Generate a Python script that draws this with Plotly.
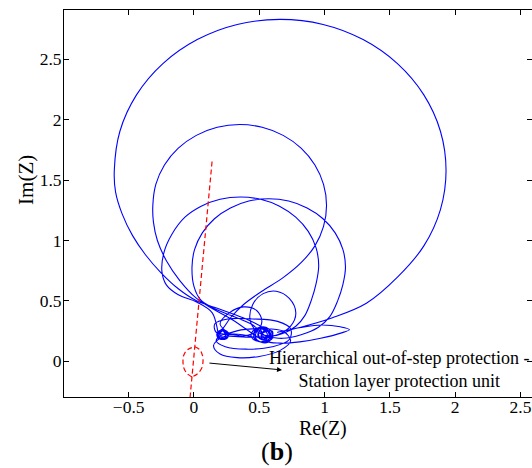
import plotly.graph_objects as go

# ---------------- data ----------------
x_ticks = [-0.5, 0, 0.5, 1, 1.5, 2, 2.5]
y_ticks = [0, 0.5, 1, 1.5, 2, 2.5]

# blue impedance trajectory, split into segments in drawing order
blob2_a_re = [0.53, 0.47, 0.46, 0.51, 0.58, 0.60, 0.55, 0.50, 0.49, 0.52, 0.57, 0.59, 0.56, 0.52, 0.52, 0.55, 0.58, 0.58, 0.54]
blob2_a_im = [0.28, 0.25, 0.19, 0.16, 0.17, 0.23, 0.28, 0.25, 0.21, 0.178, 0.18, 0.22, 0.26, 0.235, 0.205, 0.19, 0.205, 0.235, 0.27]

loop_a_re = [0.40, 0.20, 0.02, -0.12, -0.25, -0.37, -0.47, -0.55, -0.60, -0.61, -0.567, -0.44, -0.238, 0.025, 0.331, 0.66,
             0.989, 1.295, 1.558, 1.76, 1.887, 1.93, 1.887, 1.76, 1.558, 1.32, 1.06, 0.81, 0.64]
loop_a_im = [0.35, 0.43, 0.50, 0.60, 0.73, 0.88, 1.04, 1.22, 1.40, 1.58, 1.904, 2.205, 2.464, 2.663, 2.788, 2.83,
             2.788, 2.663, 2.464, 2.205, 1.904, 1.58, 1.256, 0.955, 0.696, 0.48, 0.36, 0.28, 0.24]

narrow_re = [0.82, 0.98, 1.12, 1.19, 1.13, 0.97, 0.81, 0.66, 0.55]
narrow_im = [0.28, 0.30, 0.285, 0.262, 0.235, 0.19, 0.16, 0.15, 0.17]

blob2_b_re = [0.50, 0.45, 0.44, 0.49, 0.55, 0.56, 0.52, 0.56, 0.52, 0.52, 0.56, 0.60, 0.60, 0.57, 0.53, 0.48, 0.46, 0.50]
blob2_b_im = [0.275, 0.25, 0.20, 0.165, 0.175, 0.23, 0.27, 0.25, 0.23, 0.19, 0.17, 0.19, 0.23, 0.27, 0.285, 0.27, 0.23, 0.19]

loop_b_re = [0.30, 0.15, 0.02, -0.11, -0.21, -0.28, -0.31, -0.315, -0.292, -0.226, -0.120, 0.018, 0.178, 0.35, 0.522, 0.683,
             0.820, 0.926, 0.992, 1.015, 0.992, 0.926, 0.820, 0.68, 0.52, 0.38, 0.28, 0.22]
loop_b_im = [0.34, 0.43, 0.52, 0.67, 0.83, 1.00, 1.15, 1.29, 1.464, 1.625, 1.764, 1.870, 1.937, 1.96, 1.937, 1.870,
             1.764, 1.625, 1.464, 1.29, 1.116, 0.955, 0.816, 0.69, 0.58, 0.47, 0.36, 0.27]

blob1_a_re = [0.18, 0.18, 0.22, 0.26, 0.26, 0.22, 0.19, 0.19, 0.22, 0.25, 0.25, 0.22, 0.20, 0.20, 0.22, 0.24, 0.24, 0.22, 0.18, 0.19]
blob1_a_im = [0.24, 0.20, 0.18, 0.20, 0.24, 0.26, 0.235, 0.205, 0.19, 0.205, 0.235, 0.25, 0.23, 0.21, 0.20, 0.21, 0.23, 0.255, 0.23, 0.19]

loop_c_re = [0.14, 0.02, -0.12, -0.21, -0.245, -0.23, -0.17, -0.069, 0.055, 0.20, 0.355, 0.51, 0.655, 0.779, 0.875, 0.935,
             0.955, 0.935, 0.90, 0.85, 0.78, 0.68, 0.58]
loop_c_im = [0.40, 0.49, 0.55, 0.63, 0.74, 0.90, 1.05, 1.193, 1.284, 1.341, 1.36, 1.341, 1.284, 1.193, 1.075, 0.938,
             0.79, 0.642, 0.51, 0.38, 0.29, 0.23, 0.21]

loop_e_re = [0.48, 0.43, 0.45, 0.53, 0.63, 0.73, 0.78, 0.74, 0.64, 0.55]
loop_e_im = [0.25, 0.34, 0.47, 0.56, 0.58, 0.52, 0.40, 0.29, 0.22, 0.21]

loop_d_re = [0.45, 0.28, 0.13, 0.05, 0.0, -0.015, 0.005, 0.064, 0.157, 0.279, 0.42, 0.5725, 0.725, 0.866, 0.988, 1.081,
             1.14, 1.16, 1.14, 1.10, 1.04, 0.95, 0.82, 0.68, 0.57]
loop_d_im = [0.30, 0.38, 0.45, 0.51, 0.62, 0.78, 0.926, 1.063, 1.18, 1.269, 1.326, 1.345, 1.326, 1.269, 1.18, 1.063,
             0.926, 0.78, 0.634, 0.50, 0.37, 0.28, 0.22, 0.19, 0.20]

loop_low_re = [0.40, 0.22, 0.15, 0.20, 0.33, 0.50, 0.66, 0.74, 0.68, 0.52, 0.36, 0.24]
loop_low_im = [0.20, 0.20, 0.13, 0.06, 0.03, 0.04, 0.09, 0.17, 0.25, 0.27, 0.26, 0.23]

blob1_b_re = [0.22, 0.185, 0.185, 0.22, 0.255, 0.255, 0.22, 0.20, 0.20, 0.22, 0.24, 0.24, 0.21, 0.18, 0.20, 0.24, 0.26, 0.24]
blob1_b_im = [0.255, 0.24, 0.20, 0.185, 0.20, 0.24, 0.25, 0.235, 0.21, 0.20, 0.21, 0.235, 0.26, 0.22, 0.19, 0.19, 0.22, 0.25]

loop_mid_re = [0.20, 0.27, 0.38, 0.48, 0.52, 0.48, 0.38, 0.30]
loop_mid_im = [0.31, 0.40, 0.45, 0.42, 0.33, 0.25, 0.21, 0.22]

loop_wide_re = [0.17, 0.16, 0.26, 0.45, 0.64, 0.74, 0.73, 0.60, 0.40, 0.24, 0.17, 0.22]
loop_wide_im = [0.24, 0.31, 0.35, 0.35, 0.33, 0.27, 0.18, 0.12, 0.10, 0.12, 0.17, 0.22]

blob2_c_re = [0.45, 0.49, 0.55, 0.60, 0.60, 0.56, 0.52, 0.52, 0.56, 0.60, 0.59, 0.54, 0.49, 0.47, 0.51, 0.57, 0.60, 0.57, 0.53,
              0.50, 0.50, 0.53, 0.57, 0.57, 0.54]
blob2_c_im = [0.20, 0.165, 0.17, 0.21, 0.25, 0.25, 0.23, 0.19, 0.17, 0.19, 0.25, 0.28, 0.26, 0.20, 0.16, 0.16, 0.22, 0.27, 0.28,
              0.25, 0.20, 0.18, 0.20, 0.24, 0.26]

# red dashed characteristic
red_line_re = [-0.03, 0.14]
red_line_im = [-0.30, 1.67]
lens_re = [-0.015, -0.05, -0.076, -0.084, -0.078, -0.05, 0.006, None,
           0.006, 0.045, 0.066, 0.069, 0.058, 0.025, -0.015]
lens_im = [-0.13, -0.105, -0.06, -0.005, 0.05, 0.095, 0.12, None,
           0.12, 0.095, 0.045, -0.005, -0.06, -0.105, -0.13]

# arrow (tail -> head) and label
arrow_tail = (0.107, -0.014)
arrow_head = (0.674, -0.072)
label_pos = (1.57, -0.072)
label_text = "Hierarchical out-of-step protection -<br>Station layer protection unit"

segments = [
    (blob2_a_re, blob2_a_im), (loop_a_re, loop_a_im), (narrow_re, narrow_im),
    (blob2_b_re, blob2_b_im), (loop_b_re, loop_b_im), (blob1_a_re, blob1_a_im),
    (loop_c_re, loop_c_im), (loop_e_re, loop_e_im), (loop_d_re, loop_d_im),
    (loop_low_re, loop_low_im), (blob1_b_re, blob1_b_im), (loop_mid_re, loop_mid_im),
    (loop_wide_re, loop_wide_im), (blob2_c_re, blob2_c_im),
]
traj_re, traj_im = [], []
for r, i in segments:
    traj_re += r
    traj_im += i

FONT = "Liberation Serif, Times New Roman, serif"

fig = go.Figure()
fig.add_trace(go.Scatter(x=traj_re, y=traj_im, mode="lines",
                         line=dict(color="#0000ff", width=1.1, shape="spline", smoothing=1.0),
                         hoverinfo="skip", showlegend=False))
fig.add_trace(go.Scatter(x=red_line_re, y=red_line_im, mode="lines",
                         line=dict(color="#ff0000", width=1.2, dash="5px,3px"),
                         hoverinfo="skip", showlegend=False))
fig.add_trace(go.Scatter(x=lens_re, y=lens_im, mode="lines", connectgaps=False,
                         line=dict(color="#ff0000", width=1.2, dash="5px,3px", shape="spline"),
                         hoverinfo="skip", showlegend=False))

fig.add_annotation(x=arrow_head[0], y=arrow_head[1], ax=arrow_tail[0], ay=arrow_tail[1],
                   xref="x", yref="y", axref="x", ayref="y", text="",
                   showarrow=True, arrowhead=2, arrowsize=1, arrowwidth=1, arrowcolor="black")
fig.add_annotation(x=label_pos[0], y=label_pos[1], xref="x", yref="y", text=label_text,
                   showarrow=False, align="center", xanchor="center", yanchor="middle",
                   font=dict(family=FONT, size=18, color="black"))

fig.add_annotation(x=0.553, y=-0.082, xref="paper", yref="paper", text="Re(Z)",
                   showarrow=False, xanchor="center", yanchor="middle",
                   font=dict(family=FONT, size=20, color="black"))
fig.add_annotation(x=-0.0812, y=0.561, xref="paper", yref="paper", text="Im(Z)",
                   showarrow=False, xanchor="center", yanchor="middle", textangle=-90,
                   font=dict(family=FONT, size=21, color="black"))
fig.add_annotation(x=0.455, y=-0.14, xref="paper", yref="paper", text="(<b>b</b>)",
                   showarrow=False, xanchor="center", yanchor="middle",
                   font=dict(family=FONT, size=26, color="black"))

axis_common = dict(showgrid=False, zeroline=False, showline=True, linecolor="black",
                   linewidth=1, mirror="ticks", ticks="inside", ticklen=5,
                   tickcolor="black", tickwidth=1,
                   tickfont=dict(family=FONT, size=17.5, color="black"))

fig.update_layout(
    width=532, height=468,
    margin=dict(l=64, r=0, t=10, b=71),
    paper_bgcolor="white", plot_bgcolor="white",
    font=dict(family=FONT, color="black"),
    xaxis=dict(range=[-0.995, 2.588], tickvals=x_ticks, ticklabelstandoff=-6, **axis_common),
    yaxis=dict(range=[-0.296, 2.908], tickvals=y_ticks, ticklabelstandoff=-2, **axis_common),
)

fig.write_html("out.html")
